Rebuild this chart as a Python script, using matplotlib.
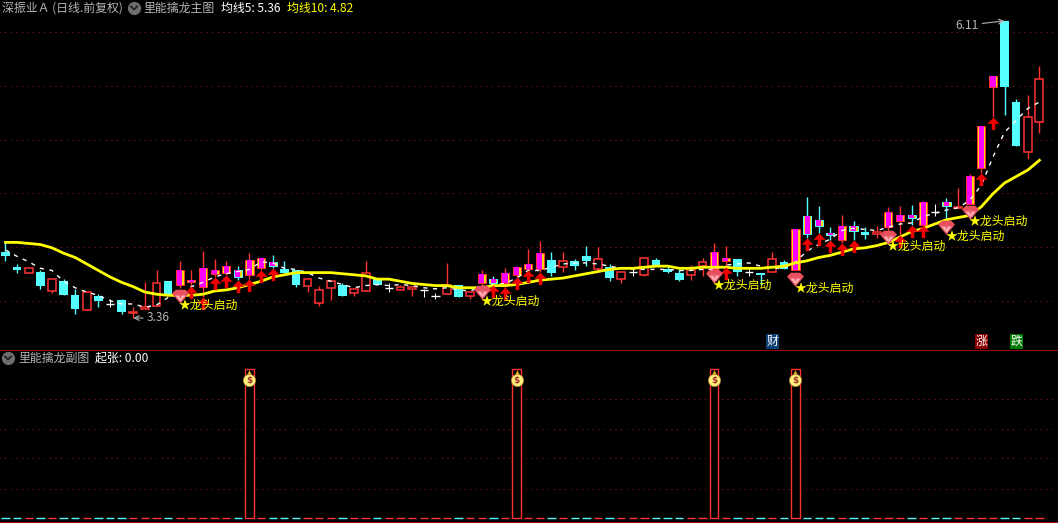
import matplotlib
matplotlib.use('Agg')
import matplotlib.pyplot as plt
from matplotlib.lines import Line2D
from matplotlib.path import Path
from matplotlib.transforms import blended_transform_factory

plt.rcParams['font.family'] = ['Noto Sans CJK SC', 'DejaVu Sans']

# Daily candles
opens = [3.97, 3.83, 3.78, 3.79, 3.61, 3.70, 3.57, 3.43, 3.56, 3.49,
         3.53, 3.41, 3.44, 3.47, 3.70, 3.67, 3.69, 3.65, 3.77, 3.78,
         3.80, 3.76, 3.82, 3.88, 3.81, 3.80, 3.66, 3.50, 3.64, 3.67,
         3.59, 3.61, 3.72, 3.64, 3.62, 3.63, 3.62, 3.56, 3.58, 3.67,
         3.56, 3.68, 3.72, 3.68, 3.76, 3.81, 3.81, 3.90, 3.83, 3.89,
         3.93, 3.81, 3.83, 3.72, 3.79, 3.76, 3.90, 3.81, 3.78, 3.76,
         3.84, 3.81, 3.89, 3.91, 3.79, 3.78, 3.79, 3.88, 3.80, 4.30,
         4.27, 4.15, 4.08, 4.21, 4.16, 4.14, 4.20, 4.26, 4.31, 4.22,
         4.34, 4.43, 4.38, 4.42, 4.75, 5.50, 6.11, 5.36, 4.90, 5.17]
highs = [4.06, 3.86, 3.82, 3.80, 3.72, 3.72, 3.63, 3.61, 3.58, 3.54,
         3.54, 3.46, 3.69, 3.80, 3.70, 3.89, 3.80, 3.98, 3.91, 3.89,
         3.84, 3.96, 3.92, 3.94, 3.89, 3.80, 3.72, 3.66, 3.70, 3.68,
         3.63, 3.89, 3.73, 3.68, 3.67, 3.65, 3.63, 3.59, 3.87, 3.67,
         3.60, 3.80, 3.75, 3.82, 3.84, 4.00, 4.07, 3.97, 3.97, 3.91,
         4.03, 4.02, 3.86, 3.79, 3.82, 3.92, 3.92, 3.84, 3.81, 3.85,
         3.92, 4.05, 4.03, 3.91, 3.82, 3.78, 3.97, 3.90, 4.18, 4.48,
         4.40, 4.20, 4.31, 4.26, 4.20, 4.21, 4.39, 4.40, 4.41, 4.44,
         4.42, 4.47, 4.56, 4.69, 5.14, 5.60, 6.11, 5.39, 5.42, 5.69]
lows = [3.89, 3.78, 3.78, 3.63, 3.59, 3.57, 3.40, 3.43, 3.46, 3.46,
        3.40, 3.36, 3.44, 3.47, 3.57, 3.64, 3.66, 3.55, 3.74, 3.76,
        3.71, 3.72, 3.80, 3.82, 3.78, 3.65, 3.60, 3.47, 3.53, 3.56,
        3.56, 3.61, 3.67, 3.60, 3.62, 3.56, 3.55, 3.54, 3.58, 3.55,
        3.54, 3.63, 3.67, 3.65, 3.74, 3.80, 3.79, 3.75, 3.79, 3.80,
        3.84, 3.79, 3.70, 3.68, 3.75, 3.75, 3.85, 3.78, 3.70, 3.71,
        3.75, 3.78, 3.83, 3.75, 3.75, 3.67, 3.79, 3.81, 3.80, 4.10,
        4.15, 4.08, 4.05, 4.08, 4.09, 4.10, 4.17, 4.13, 4.22, 4.22,
        4.30, 4.29, 4.38, 4.42, 4.70, 5.22, 5.24, 4.95, 4.83, 5.07]
closes = [3.93, 3.80, 3.82, 3.66, 3.72, 3.57, 3.44, 3.60, 3.52, 3.48,
          3.42, 3.42, 3.46, 3.68, 3.57, 3.80, 3.71, 3.82, 3.80, 3.84,
          3.74, 3.90, 3.92, 3.84, 3.78, 3.67, 3.72, 3.62, 3.70, 3.56,
          3.63, 3.78, 3.67, 3.64, 3.65, 3.65, 3.62, 3.56, 3.67, 3.55,
          3.60, 3.77, 3.68, 3.78, 3.83, 3.86, 3.96, 3.78, 3.89, 3.84,
          3.89, 3.91, 3.73, 3.79, 3.79, 3.92, 3.85, 3.79, 3.71, 3.80,
          3.88, 3.97, 3.92, 3.79, 3.79, 3.76, 3.91, 3.81, 4.18, 4.14,
          4.21, 4.13, 4.21, 4.17, 4.13, 4.16, 4.34, 4.31, 4.29, 4.43,
          4.33, 4.40, 4.39, 4.67, 5.14, 5.60, 5.50, 4.95, 5.22, 5.57]

# Moving averages
ma5 = [3.99, 3.93, 3.88, 3.82, 3.80, 3.70, 3.64, 3.60, 3.57, 3.52,
       3.49, 3.49, 3.46, 3.48, 3.55, 3.57, 3.65, 3.69, 3.74, 3.77,
       3.79, 3.81, 3.88, 3.87, 3.82, 3.81, 3.78, 3.73, 3.70, 3.67,
       3.64, 3.66, 3.67, 3.66, 3.67, 3.66, 3.64, 3.63, 3.64, 3.62,
       3.61, 3.65, 3.67, 3.68, 3.73, 3.80, 3.80, 3.83, 3.86, 3.87,
       3.87, 3.86, 3.84, 3.82, 3.81, 3.81, 3.81, 3.81, 3.80, 3.80,
       3.81, 3.81, 3.85, 3.86, 3.87, 3.84, 3.82, 3.82, 3.88, 3.98,
       4.04, 4.09, 4.17, 4.19, 4.18, 4.17, 4.20, 4.23, 4.24, 4.30,
       4.33, 4.36, 4.38, 4.45, 4.59, 4.85, 5.08, 5.19, 5.30, 5.36]
ma10 = [4.06, 4.06, 4.05, 4.04, 4.01, 3.96, 3.92, 3.86, 3.80, 3.74,
        3.69, 3.65, 3.60, 3.58, 3.57, 3.57, 3.57, 3.58, 3.61, 3.62,
        3.64, 3.67, 3.70, 3.74, 3.76, 3.78, 3.78, 3.78, 3.78, 3.77,
        3.76, 3.75, 3.72, 3.72, 3.70, 3.68, 3.67, 3.66, 3.66, 3.64,
        3.64, 3.64, 3.66, 3.66, 3.67, 3.69, 3.71, 3.72, 3.73, 3.75,
        3.77, 3.79, 3.81, 3.82, 3.82, 3.83, 3.84, 3.84, 3.82, 3.82,
        3.83, 3.83, 3.83, 3.82, 3.82, 3.82, 3.83, 3.84, 3.87, 3.89,
        3.92, 3.94, 3.97, 4.00, 4.01, 4.03, 4.06, 4.11, 4.16, 4.19,
        4.23, 4.27, 4.29, 4.31, 4.39, 4.51, 4.61, 4.67, 4.73, 4.82]

# Candle groups and signals
doji_idx = [9, 33, 36, 37, 54, 64, 80]
hot_idx = [15, 16, 17, 18, 19, 20, 21, 22, 23, 41, 42, 43, 44, 45, 46, 61, 62,
           68, 69, 70, 71, 72, 73, 76, 77, 78, 79, 81, 83, 84, 85]
arrow_idx = [16, 17, 18, 19, 20, 21, 22, 23, 42, 43, 44, 45, 46, 62,
             69, 70, 71, 72, 73, 77, 78, 79, 84, 85]
gem_idx = [15, 41, 61, 68, 76, 81, 83]
gem_price = [3.56, 3.60, 3.75, 3.72, 4.11, 4.20, 4.34]
grid_main = [3.52, 4.02, 4.52, 5.01, 5.51, 6.01]
grid_sub = [0.195, 0.40, 0.60, 0.80]
qizhang_idx = [21, 44, 61, 68]
qizhang = [1 if i in qizhang_idx else 0 for i in range(len(closes))]

W, H = 1058, 523
RED = '#ff3232'
CYAN = '#54ffff'
GRAY = '#b4b4b4'
YELLOW = '#ffff00'
LW = 0.72  # one pixel
LW2 = 1.1  # candle and column outlines


def fx(x):
    return x / W


def fy(y):
    return 1 - y / H


fig = plt.figure(figsize=(W / 100, H / 100), dpi=100, facecolor='black')
ax = fig.add_axes([0, fy(349), 1, 349 / H], facecolor='black')
ax2 = fig.add_axes([0, 0, 1, fy(349)], facecolor='black')
for a in (ax, ax2):
    a.set_xlim(-0.473, 90.6)
    a.set_xticks([])
    a.set_yticks([])
    for s in a.spines.values():
        s.set_visible(False)
ax.set_ylim(3.073, 6.304)
ax2.set_ylim(-0.034, 1.134)

ax.hlines(grid_main, -1, 91, color='#a01414', lw=LW, ls=(0, (1, 4.6)), zorder=1)
ax2.hlines(grid_sub, -1, 91, color='#a01414', lw=LW, ls=(0, (1, 4.6)), zorder=1)

# Candles
for i in range(len(closes)):
    o, h, l, c = opens[i], highs[i], lows[i], closes[i]
    up = c >= o
    if i in doji_idx:
        ax.vlines(i, l, h, color='white', lw=LW, zorder=2).set_snap(True)
        ax.hlines(o, i - 0.36, i + 0.36, color='white', lw=1, zorder=3).set_snap(True)
        continue
    col = RED if up else CYAN
    ax.vlines(i, l, h, color=col, lw=1, zorder=2).set_snap(True)
    bottom, top = min(o, c), max(o, c)
    if i in hot_idx:
        ax.bar(i, top - bottom, 0.7, bottom, color='#ffd800', edgecolor=col, lw=LW, zorder=3)
        ax.bar(i, top - bottom, 0.44, bottom, color='#ff00ff', lw=0, zorder=3)
    elif up:
        ax.bar(i, top - bottom, 0.68, bottom, color='black', edgecolor=col, lw=LW2, zorder=3)
    else:
        ax.bar(i, top - bottom, 0.74, bottom, color=col, lw=0, zorder=3)

ax.plot(range(len(ma5)), ma5, color='white', lw=1, ls=(0, (3, 4)), zorder=4)
ax.plot(range(len(ma10)), ma10, color=YELLOW, lw=2, zorder=5)

# Red arrows, tip on the day's low
arrow = Path([(0, 0), (0.48, -0.5), (0.14, -0.5), (0.14, -1), (-0.14, -1),
              (-0.14, -0.5), (-0.48, -0.5), (0, 0)], closed=True)
ax.scatter(arrow_idx, [lows[i] for i in arrow_idx], marker=arrow, s=330,
           color='#f00000', lw=0, zorder=6)

# Gems and their labels
gem = Path([(-1, 0.35), (-0.55, 0.8), (0.55, 0.8), (1, 0.35), (0, -0.85), (-1, 0.35)], closed=True)
ax.scatter(gem_idx, gem_price, marker=gem, s=150, color='#e8505f', lw=0, zorder=7)
facet = Path([(-1, 0.2), (1, 0.2), (0, -1), (-1, 0.2)], closed=True)
ax.scatter(gem_idx, gem_price, marker=facet, s=55, color='#ffb0b4', lw=0, zorder=7)
ax.scatter(gem_idx, gem_price, marker='v', s=9, color='#f06070', lw=0, zorder=7)
for i, p in zip(gem_idx, gem_price):
    ax.annotate('★龙头启动', xy=(i, p), xytext=(-1, -6.5), textcoords='offset points',
                color=YELLOW, fontsize=8.6, va='center', ha='left', zorder=8)

# High and low labels
ax.annotate('6.11', xy=(86, 6.11), xytext=(-19, -3), textcoords='offset points', color=GRAY,
            fontsize=8.6, va='center', ha='right', zorder=8,
            arrowprops=dict(arrowstyle='->', color=GRAY, lw=0.8, shrinkA=1, shrinkB=0))
ax.annotate('3.36', xy=(11, 3.36), xytext=(10, 0), textcoords='offset points', color=GRAY,
            fontsize=8.6, va='center', ha='left', zorder=8,
            arrowprops=dict(arrowstyle='->', color=GRAY, lw=0.8, shrinkA=1, shrinkB=0))

# Event tags along the bottom of the main panel
trans = blended_transform_factory(ax.transData, ax.transAxes)
for i, txt, bg in [(66, '财', '#0e3f73'), (84, '涨', '#8b0000'), (87, '跌', '#007a00')]:
    ax.text(i, 0.0215, txt, color='white', fontsize=8.6, ha='center', va='center', transform=trans,
            bbox=dict(facecolor=bg, edgecolor='none', pad=0.4), zorder=8)

# Sub panel
for i, v in enumerate(qizhang):
    col = RED if closes[i] >= opens[i] else CYAN
    if v:
        ax2.bar(i, v, 0.72, 0, color='black', edgecolor=RED, lw=1, zorder=3)
    else:
        ax2.hlines(0, i - 0.36, i + 0.36, color=col, lw=1, zorder=3).set_snap(True)
ax2.scatter(qizhang_idx, [0.975] * 4, marker='^', s=22, color='#e8b020', lw=0, zorder=4)
ax2.scatter(qizhang_idx, [0.925] * 4, marker='o', s=78, color='#fff27a', edgecolor='#b07830', lw=0.5, zorder=4)
for i in qizhang_idx:
    ax2.text(i, 0.925, '$', color='#a03030', fontsize=6.5, fontweight='bold', family='DejaVu Sans',
             ha='center', va='center', zorder=5)

# Separator and bottom rule
fig.add_artist(Line2D([0, 1], [fy(349.5)] * 2, color='#a00000', lw=LW, transform=fig.transFigure))
fig.add_artist(Line2D([0, 1], [fy(521.5)] * 2, color='#a00000', lw=LW, transform=fig.transFigure))


def header(x, y, txt, color=GRAY):
    fig.text(fx(x), fy(y), txt, color=color, fontsize=8.6, va='center', ha='left')


def chevron(x, y):
    fig.add_artist(Line2D([fx(x)], [fy(y)], marker='o', ms=9.5, color='#6e6e6e', mew=0, transform=fig.transFigure))
    fig.add_artist(Line2D([fx(x - 3), fx(x), fx(x + 3)], [fy(y - 1.5), fy(y + 1.5), fy(y - 1.5)],
                          color='#1c1c1c', lw=1.2, transform=fig.transFigure))


header(2, 8, '深振业Ａ (日线.前复权)')
chevron(134, 8)
header(143, 8, '里能擒龙主图')
header(221, 8, '均线5: 5.36', 'white')
header(287, 8, '均线10: 4.82', YELLOW)
chevron(8, 358)
header(18, 358, '里能擒龙副图')
header(95, 358, '起张: 0.00', 'white')

fig.savefig('out.png', dpi=100, facecolor='black')
